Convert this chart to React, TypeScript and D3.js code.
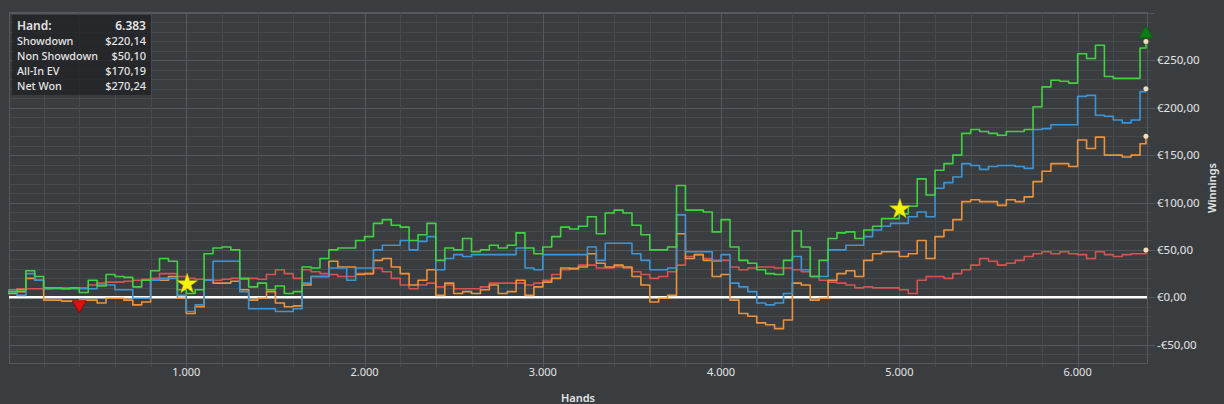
import React, { useEffect, useRef } from 'react';
import * as d3 from 'd3';

const hands = [
  0, 50, 100, 150, 200, 250, 300, 350, 400, 450, 500, 550, 600, 650, 700, 750,
  800, 850, 900, 950, 1000, 1050, 1100, 1150, 1200, 1250, 1300, 1350, 1400, 1450, 1500, 1550,
  1600, 1650, 1700, 1750, 1800, 1850, 1900, 1950, 2000, 2050, 2100, 2150, 2200, 2250, 2300, 2350,
  2400, 2450, 2500, 2550, 2600, 2650, 2700, 2750, 2800, 2850, 2900, 2950, 3000, 3050, 3100, 3150,
  3200, 3250, 3300, 3350, 3400, 3450, 3500, 3550, 3600, 3650, 3700, 3750, 3800, 3850, 3900, 3950,
  4000, 4050, 4100, 4150, 4200, 4250, 4300, 4350, 4400, 4450, 4500, 4550, 4600, 4650, 4700, 4750,
  4800, 4850, 4900, 4950, 5000, 5050, 5100, 5150, 5200, 5250, 5300, 5350, 5400, 5450, 5500, 5550,
  5600, 5650, 5700, 5750, 5800, 5850, 5900, 5950, 6000, 6050, 6100, 6150, 6200, 6250, 6300, 6350,
  6383,
];

// Net Won
const netWon = [
  6, 8, 28, 22, 10, 10, 9, 10, 5, 18, 12, 24, 22, 21, 11, 18,
  28, 41, 38, 8, 4, 8, 46, 52, 53, 50, 20, 11, 15, 8, 12, 4,
  6, 32, 31, 41, 50, 52, 52, 60, 64, 78, 82, 76, 74, 60, 66, 78,
  39, 52, 50, 62, 48, 50, 55, 52, 55, 68, 52, 46, 53, 64, 74, 72,
  75, 85, 67, 89, 92, 89, 76, 66, 50, 50, 53, 118, 92, 92, 90, 69,
  82, 53, 39, 36, 29, 25, 24, 39, 70, 53, 22, 39, 62, 68, 69, 62,
  71, 75, 83, 83, 88, 96, 125, 108, 134, 141, 150, 173, 177, 175, 173, 171,
  175, 175, 177, 201, 222, 229, 228, 226, 257, 252, 266, 233, 231, 231, 231, 263,
  270,
];

// Showdown
const showdown = [
  6, 2, 25, 18, 9, 9, 9, 9, 9, 9, 13, 13, 8, 8, -1, -1,
  18, 20, 20, 2, -15, -8, 18, 38, 38, 38, 6, -12, -12, -12, -15, -15,
  -12, 15, 22, 22, 31, 31, 18, 31, 31, 50, 55, 55, 60, 50, 59, 64,
  29, 41, 45, 43, 45, 45, 45, 45, 45, 52, 31, 29, 45, 45, 45, 45,
  45, 53, 39, 57, 57, 57, 46, 39, 29, 29, 31, 87, 48, 48, 48, 38,
  45, 15, 11, 6, -6, -8, -6, 4, 43, 29, 22, 22, 50, 50, 55, 55,
  64, 71, 75, 78, 78, 85, 90, 85, 115, 121, 127, 141, 139, 135, 138, 139,
  139, 138, 136, 177, 178, 182, 182, 182, 212, 213, 192, 191, 187, 184, 187, 217,
  220,
];

// All-In EV
const allInEv = [
  4, 6, 20, 18, -3, -3, -4, -4, -3, -3, -6, -1, -1, -3, -8, -5,
  18, 18, 22, -1, -17, -10, 18, 15, 15, 17, 8, -3, -1, 6, -6, -10,
  -9, 13, 22, 22, 38, 32, 32, 24, 25, 39, 41, 32, 25, 13, 18, 29,
  2, 15, 4, 6, 4, 8, 13, 4, 6, 18, 2, 11, 16, 20, 31, 30,
  32, 46, 36, 32, 34, 32, 22, 13, -5, -1, 2, 67, 41, 45, 39, 22,
  24, -3, -17, -20, -27, -29, -33, -24, 15, 13, -3, -1, 18, 25, 28, 22,
  39, 46, 48, 48, 43, 46, 60, 41, 64, 71, 82, 101, 103, 101, 101, 97,
  103, 101, 106, 122, 133, 141, 141, 138, 166, 157, 169, 150, 150, 148, 150, 162,
  170,
];

// Non Showdown
const nonShowdown = [
  8, 9, 9, 9, 9, 10, 10, 10, 10, 13, 15, 16, 16, 17, 18, 19,
  20, 25, 25, 22, 20, 19, 18, 18, 19, 20, 19, 20, 19, 24, 29, 25,
  20, 29, 27, 25, 24, 22, 22, 25, 25, 31, 27, 20, 13, 9, 13, 15,
  11, 13, 9, 9, 9, 11, 15, 15, 15, 15, 13, 15, 18, 24, 29, 31,
  34, 34, 31, 31, 32, 31, 27, 24, 20, 22, 27, 34, 43, 45, 41, 39,
  39, 32, 29, 31, 32, 32, 31, 31, 29, 27, 22, 18, 16, 15, 13, 10,
  11, 10, 10, 10, 8, 4, 18, 22, 22, 20, 25, 29, 34, 41, 38, 34,
  36, 39, 43, 46, 48, 46, 48, 46, 45, 41, 48, 45, 43, 45, 46, 46,
  50,
];

const seriesColors = ['#d9524f', '#ee923a', '#3b95d6', '#3fd33f'];
const seriesValues = [nonShowdown, allInEv, showdown, netWon];

const statLabels = ['Showdown', 'Non Showdown', 'All-In EV', 'Net Won'];
const statValues = ['$220,14', '$50,10', '$170,19', '$270,24'];
const handCountLabel = '6.383';

const xTicks = [1000, 2000, 3000, 4000, 5000, 6000];
const yTicks = [-50, 0, 50, 100, 150, 200, 250];

const markerHands = [400, 1005, 5003, 6383];
const markerValues = [-10, 14, 93, 280];
const markerKinds = ['down', 'star', 'star', 'up'];

const fmtHands = (v: number) => d3.format(',')(v).replace(/,/g, '.');
const fmtEuro = (v: number) => {
  const s = Math.abs(v).toFixed(2).replace('.', ',');
  return (v < 0 ? '-€' : '€') + s;
};

export default function App() {
  const svgRef = useRef<SVGSVGElement>(null);

  useEffect(() => {
    document.body.style.margin = '0';
    document.body.style.background = '#3a3d40';
    if (!svgRef.current) return;
    const svg = d3.select(svgRef.current);
    svg.selectAll('*').remove();

    const W = 1224, H = 404;
    const left = 9, right = 1147, top = 12, bottom = 363;
    const font = '"Noto Sans", "Open Sans", sans-serif';

    const x = d3.scaleLinear().domain([0, 6389]).range([8, right]);
    const y = d3.scaleLinear().domain([-69.3, 301]).range([bottom, top]);

    svg.append('rect').attr('width', W).attr('height', H).attr('fill', '#3a3d40');

    // grid
    const grid = svg.append('g');
    d3.range(-60, 301, 10).forEach(v => {
      const major = v % 50 === 0;
      grid.append('line')
        .attr('x1', left).attr('x2', right + (major ? 8 : 4))
        .attr('y1', Math.round(y(v)) + 0.5).attr('y2', Math.round(y(v)) + 0.5)
        .attr('stroke', major ? '#55585c' : '#47494d').attr('stroke-width', 1);
    });
    d3.range(200, 6390, 200).forEach(h => {
      const major = h % 1000 === 0;
      grid.append('line')
        .attr('x1', Math.round(x(h)) + 0.5).attr('x2', Math.round(x(h)) + 0.5)
        .attr('y1', top).attr('y2', bottom + 4)
        .attr('stroke', major ? '#55585c' : '#47494d').attr('stroke-width', 1);
    });
    svg.append('rect')
      .attr('x', left + 0.5).attr('y', top + 0.5)
      .attr('width', right - left).attr('height', bottom - top)
      .attr('fill', 'none').attr('stroke', '#55585c');

    // zero line
    svg.append('line')
      .attr('x1', left).attr('x2', right)
      .attr('y1', y(0)).attr('y2', y(0))
      .attr('stroke', '#ffffff').attr('stroke-width', 2.5);

    // series
    const line = d3.line<number>()
      .x((_, i) => x(hands[i]))
      .y(d => y(d))
      .curve(d3.curveStepAfter);

    seriesValues.forEach((vals, i) => {
      svg.append('path')
        .datum(vals)
        .attr('d', line)
        .attr('fill', 'none')
        .attr('stroke', seriesColors[i])
        .attr('stroke-width', 1.6)
        .attr('stroke-linejoin', 'round');
    });

    // end dots
    seriesValues.forEach(vals => {
      svg.append('circle')
        .attr('cx', x(hands[hands.length - 1]))
        .attr('cy', y(vals[vals.length - 1]))
        .attr('r', 2.5)
        .attr('fill', '#f3dcb8');
    });

    // markers
    markerHands.forEach((h, i) => {
      const cx = x(h), cy = y(markerValues[i]);
      const kind = markerKinds[i];
      if (kind === 'star') {
        svg.append('path')
          .attr('d', d3.symbol(d3.symbolStar, 130)())
          .attr('transform', `translate(${cx},${cy})`)
          .attr('fill', '#f4f10f').attr('stroke', '#c9c200').attr('stroke-width', 0.5);
      } else if (kind === 'down') {
        svg.append('path')
          .attr('d', `M${cx - 7},${cy - 6} L${cx + 7},${cy - 6} L${cx},${cy + 6} Z`)
          .attr('fill', '#e01010').attr('stroke', '#8a0000').attr('stroke-width', 0.8);
      } else {
        svg.append('path')
          .attr('d', `M${cx - 7},${cy + 6} L${cx + 7},${cy + 6} L${cx},${cy - 6} Z`)
          .attr('fill', '#0b7d12').attr('stroke', '#0a5c0e').attr('stroke-width', 0.8);
      }
    });

    // axes labels
    const txt = '#e4e4e4';
    yTicks.forEach(v => {
      svg.append('text')
        .attr('x', 1157).attr('y', y(v)).attr('dy', '0.35em')
        .attr('fill', txt).attr('font-family', font).attr('font-size', 11.5)
        .text(fmtEuro(v));
    });
    xTicks.forEach(h => {
      svg.append('text')
        .attr('x', x(h)).attr('y', 376)
        .attr('text-anchor', 'middle')
        .attr('fill', txt).attr('font-family', font).attr('font-size', 11)
        .text(fmtHands(h));
    });
    svg.append('text')
      .attr('x', 578).attr('y', 402)
      .attr('text-anchor', 'middle')
      .attr('fill', txt).attr('font-family', font).attr('font-size', 11).attr('font-weight', 600)
      .text('Hands');
    svg.append('text')
      .attr('transform', 'translate(1216,188) rotate(-90)')
      .attr('text-anchor', 'middle')
      .attr('fill', txt).attr('font-family', font).attr('font-size', 11).attr('font-weight', 600)
      .text('Winnings');

    // stats box
    const box = svg.append('g');
    box.append('rect')
      .attr('x', 12).attr('y', 15).attr('width', 139).attr('height', 80)
      .attr('fill', '#1e1f21').attr('fill-opacity', 0.72);
    box.append('text')
      .attr('x', 17).attr('y', 29.5)
      .attr('fill', txt).attr('font-family', font).attr('font-size', 12).attr('font-weight', 600)
      .text('Hand:');
    box.append('text')
      .attr('x', 146).attr('y', 29.5).attr('text-anchor', 'end')
      .attr('fill', txt).attr('font-family', font).attr('font-size', 12).attr('font-weight', 600)
      .text(handCountLabel);
    statLabels.forEach((label, i) => {
      const ty = 44.5 + i * 15.2;
      box.append('text')
        .attr('x', 17).attr('y', ty)
        .attr('fill', txt).attr('font-family', font).attr('font-size', 10.8).attr('font-weight', 500)
        .text(label);
      box.append('text')
        .attr('x', 146).attr('y', ty).attr('text-anchor', 'end')
        .attr('fill', txt).attr('font-family', font).attr('font-size', 11).attr('font-weight', 500)
        .text(statValues[i]);
    });
  }, []);

  return <svg ref={svgRef} width={1224} height={404} style={{ display: 'block' }} />;
}
